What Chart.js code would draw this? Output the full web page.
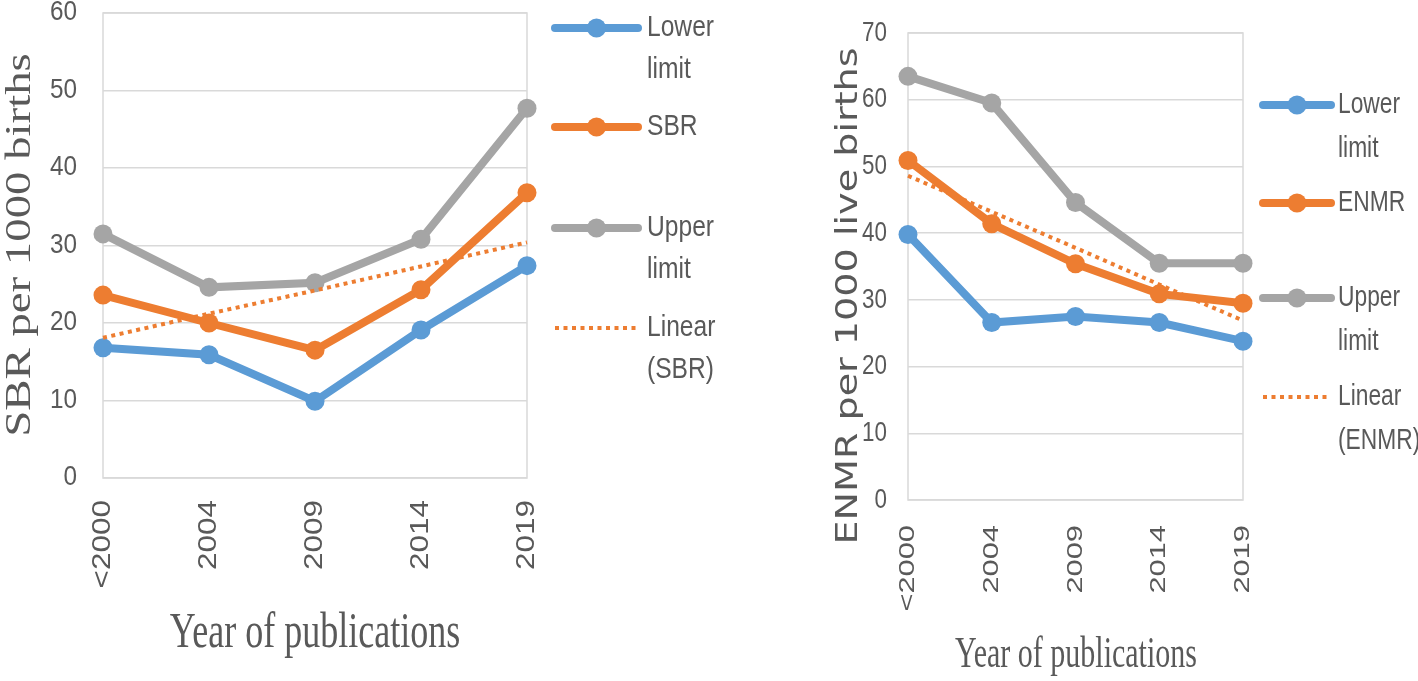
<!DOCTYPE html>
<html>
<head>
<meta charset="utf-8">
<script src="https://cdn.jsdelivr.net/npm/chart.js@4.4.1/dist/chart.umd.min.js"></script>
<style>
  html, body { margin: 0; padding: 0; background: #fff; width: 1418px; height: 681px; overflow: hidden; }
  canvas { position: absolute; top: 0; }
  #sbrChart { left: 0; }
  #enmrChart { left: 700px; }
</style>
</head>
<body>
<canvas id="sbrChart" width="780" height="681"></canvas>
<canvas id="enmrChart" width="718" height="681"></canvas>
<script>
// ===== data =====
const categories = ['<2000', '2004', '2009', '2014', '2019'];

const sbrLower = [16.8, 15.9, 9.9, 19.1, 27.4];
const sbrRate  = [23.6, 20.0, 16.5, 24.3, 36.8];
const sbrUpper = [31.5, 24.6, 25.2, 30.8, 47.7];
const sbrLinear = [18.1, 21.2, 24.2, 27.3, 30.4];

const enmrLower = [39.8, 26.6, 27.5, 26.6, 23.8];
const enmrRate  = [50.9, 41.4, 35.4, 30.9, 29.5];
const enmrUpper = [63.5, 59.5, 44.6, 35.5, 35.5];
const enmrLinear = [48.6, 43.2, 37.8, 32.3, 26.9];

const sbrTicks = { min: 0, max: 60, step: 10 };
const enmrTicks = { min: 0, max: 70, step: 10 };

// colours
const BLUE = '#5B9BD5';
const ORANGE = '#ED7D31';
const GREY = '#A5A5A5';
const TEXT = '#595959';
const GRID = '#D9D9D9';

// draw text with an optional stretch (the source figure is squashed)
function drawText(ctx, text, x, y, o) {
  ctx.save();
  ctx.translate(x, y);
  if (o.rot) ctx.rotate(o.rot);
  ctx.scale(o.sx || 1, o.sy || 1);
  ctx.font = o.font;
  ctx.fillStyle = o.color || TEXT;
  ctx.textAlign = o.align || 'left';
  ctx.textBaseline = o.baseline || 'alphabetic';
  ctx.fillText(text, 0, 0);
  ctx.restore();
}

// plot border, tick labels, axis titles and the legend
function decor(L) {
  return {
    id: 'decor',
    beforeDatasetsDraw(chart) {
      const ctx = chart.ctx, a = chart.chartArea;
      ctx.save();
      ctx.strokeStyle = GRID;
      ctx.lineWidth = 1.5;
      ctx.strokeRect(a.left, a.top, a.width, a.height);
      ctx.restore();
    },
    afterDraw(chart) {
      const ctx = chart.ctx, a = chart.chartArea, xs = chart.scales.x, ys = chart.scales.y;

      ys.ticks.forEach(t => {
        drawText(ctx, String(t.value), a.left - L.yPad, ys.getPixelForValue(t.value), {
          sx: L.yTickStretch, font: L.yTickFont, align: 'right', baseline: 'middle'
        });
      });

      chart.data.labels.forEach((lab, i) => {
        drawText(ctx, lab, xs.getPixelForTick(i), a.bottom + L.tickGap, {
          rot: -Math.PI / 2, sx: L.tickStretch, font: L.tickFont, align: 'right', baseline: 'middle'
        });
      });

      drawText(ctx, L.yTitle, L.yTitleX, L.yTitleY, {
        rot: -Math.PI / 2, sx: L.yTitleStretch, font: L.yTitleFont, align: 'center'
      });
      drawText(ctx, L.xTitle, L.xTitleX, L.xTitleY, {
        sy: L.xTitleStretch, font: L.xTitleFont, align: 'center'
      });

      // legend
      chart.data.datasets.forEach((ds, i) => {
        const y = L.legendY[i];
        ctx.save();
        ctx.strokeStyle = ds.borderColor;
        ctx.lineWidth = ds.borderWidth;
        ctx.setLineDash(ds.borderDash || []);
        ctx.lineCap = ds.borderDash ? 'butt' : 'round';
        ctx.beginPath();
        ctx.moveTo(L.legendX, y);
        ctx.lineTo(L.legendX + L.legendLen, y);
        ctx.stroke();
        if (ds.pointRadius > 0) {
          ctx.setLineDash([]);
          ctx.fillStyle = ds.borderColor;
          ctx.beginPath();
          ctx.arc(L.legendX + L.legendLen / 2, y, ds.pointRadius, 0, Math.PI * 2);
          ctx.fill();
        }
        ctx.restore();
        ds.label.split(' ').forEach((word, j) => {
          drawText(ctx, word, L.legendTextX, y + j * L.legendLH, {
            sx: L.legendStretch, font: L.legendFont, baseline: 'middle'
          });
        });
      });
    }
  };
}

function series(label, data, color, order) {
  return {
    label, data, order,
    borderColor: color, backgroundColor: color,
    borderWidth: 8, pointRadius: 9.5, pointBorderWidth: 0,
    pointBackgroundColor: color, tension: 0, clip: false
  };
}

function trend(label, data) {
  return {
    label, data, order: 0,
    borderColor: ORANGE, borderWidth: 4, borderDash: [4, 4.5],
    pointRadius: 0, tension: 0, clip: false
  };
}

function makeChart(id, datasets, ticks, L) {
  return new Chart(document.getElementById(id), {
    type: 'line',
    data: { labels: categories, datasets },
    options: {
      responsive: false,
      animation: false,
      devicePixelRatio: 1,
      layout: { padding: { left: 0, top: L.top, right: L.right, bottom: 0 } },
      plugins: { legend: { display: false }, tooltip: { enabled: false } },
      scales: {
        x: {
          offset: false,
          grid: { display: false },
          border: { display: false },
          ticks: { display: false },
          afterFit: s => { s.height = L.xHeight; s.paddingLeft = 0; s.paddingRight = 0; }
        },
        y: {
          min: ticks.min, max: ticks.max,
          grid: { color: GRID, lineWidth: 1.5, drawTicks: false },
          border: { display: false },
          ticks: { stepSize: ticks.step, display: false },
          afterFit: s => { s.width = L.yWidth; s.paddingTop = 0; s.paddingBottom = 0; }
        }
      }
    },
    plugins: [decor(L)]
  });
}

makeChart('sbrChart', [
  series('Lower limit', sbrLower, BLUE, 3),
  series('SBR', sbrRate, ORANGE, 2),
  series('Upper limit', sbrUpper, GREY, 1),
  trend('Linear (SBR)', sbrLinear)
], sbrTicks, {
  top: 13, right: 253, xHeight: 203, yWidth: 103,
  yPad: 26, yTickStretch: 0.9, yTickFont: "27px 'Liberation Sans', Arial, sans-serif",
  tickGap: 22, tickStretch: 1.26, tickFont: "25px 'Liberation Sans', Arial, sans-serif",
  yTitle: 'SBR per 1000 births', yTitleX: 30, yTitleY: 245, yTitleStretch: 1.3,
  yTitleFont: "36px 'Liberation Serif', 'Times New Roman', serif",
  xTitle: 'Year of publications', xTitleX: 315, xTitleY: 647, xTitleStretch: 1.43,
  xTitleFont: "36px 'Liberation Serif', 'Times New Roman', serif",
  legendX: 555, legendLen: 83, legendTextX: 647, legendY: [28, 127, 228, 328], legendLH: 42,
  legendStretch: 0.82, legendFont: "30px 'Liberation Sans', Arial, sans-serif"
});

makeChart('enmrChart', [
  series('Lower limit', enmrLower, BLUE, 3),
  series('ENMR', enmrRate, ORANGE, 2),
  series('Upper limit', enmrUpper, GREY, 1),
  trend('Linear (ENMR)', enmrLinear)
], enmrTicks, {
  top: 33, right: 175, xHeight: 181, yWidth: 208,
  yPad: 21, yTickStretch: 0.8, yTickFont: "28px 'Liberation Sans', Arial, sans-serif",
  tickGap: 25, tickStretch: 1.4, tickFont: "22px 'Liberation Sans', Arial, sans-serif",
  yTitle: 'ENMR per 1000 live births', yTitleX: 157, yTitleY: 296, yTitleStretch: 1.27,
  yTitleFont: "30px 'DejaVu Sans', Verdana, sans-serif",
  xTitle: 'Year of publications', xTitleX: 376, xTitleY: 667, xTitleStretch: 1.5,
  xTitleFont: "30px 'Liberation Serif', 'Times New Roman', serif",
  legendX: 563, legendLen: 68, legendTextX: 638, legendY: [105, 203, 298, 397], legendLH: 44,
  legendStretch: 0.76, legendFont: "30px 'Liberation Sans', Arial, sans-serif"
});
</script>
</body>
</html>
